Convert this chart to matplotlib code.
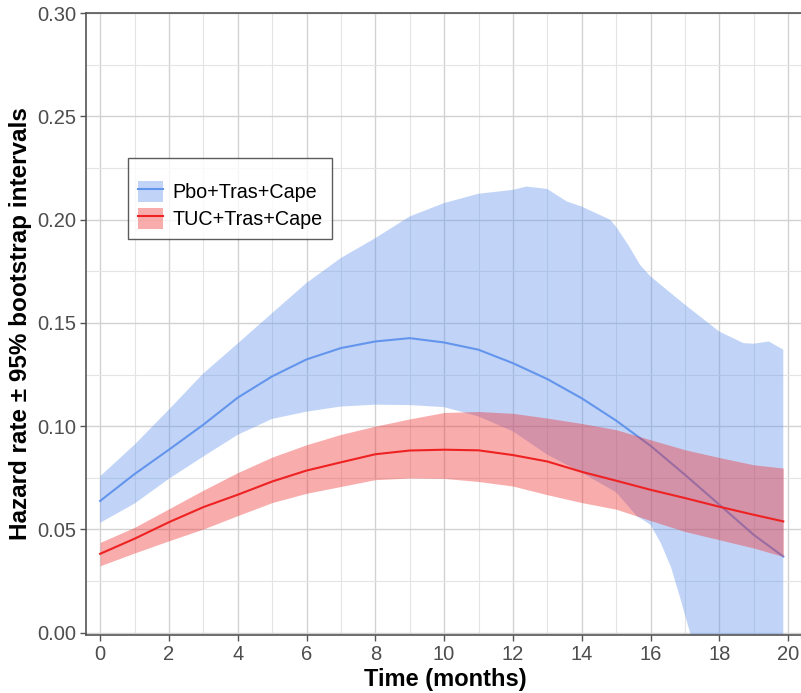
import matplotlib
matplotlib.use("Agg")
import matplotlib.pyplot as plt
from matplotlib.patches import Patch
from matplotlib.lines import Line2D
from matplotlib.ticker import MultipleLocator

plt.rcParams['font.family'] = ['Liberation Sans', 'DejaVu Sans']

# ---- data ----
months = [0, 1, 2, 3, 4, 5, 6, 7, 8, 9, 10, 11, 12, 13, 14, 15, 16, 17, 18, 19, 19.86]

pbo_hazard = [0.0638, 0.0768, 0.0886, 0.1007, 0.1138, 0.1241, 0.1323, 0.1378, 0.1410, 0.1426,
              0.1405, 0.1370, 0.1305, 0.1228, 0.1135, 0.1027, 0.0905, 0.0765, 0.0620, 0.0474, 0.0369]

tuc_hazard = [0.0382, 0.0455, 0.0535, 0.0608, 0.0668, 0.0732, 0.0785, 0.0825, 0.0864, 0.0882,
              0.0886, 0.0883, 0.0860, 0.0829, 0.0779, 0.0736, 0.0692, 0.0652, 0.0610, 0.0571, 0.0539]
tuc_upper = [0.0437, 0.0510, 0.0600, 0.0690, 0.0775, 0.0850, 0.0910, 0.0960, 0.1000, 0.1035,
             0.1066, 0.1071, 0.1062, 0.1039, 0.1013, 0.0983, 0.0934, 0.0886, 0.0848, 0.0813, 0.0797]
tuc_lower = [0.0324, 0.0386, 0.0445, 0.0502, 0.0567, 0.0630, 0.0675, 0.0708, 0.0741, 0.0749,
             0.0747, 0.0732, 0.0710, 0.0668, 0.0630, 0.0598, 0.0543, 0.0490, 0.0450, 0.0410, 0.0369]

pbo_upper_t = [0, 1, 2, 3, 4, 5, 6, 7, 8, 9, 10, 11, 12, 12.4, 13, 13.56, 14, 14.83, 15, 15.35,
               15.7, 16, 17, 18, 18.7, 19, 19.44, 19.86]
pbo_upper = [0.0757, 0.0910, 0.1080, 0.1255, 0.1400, 0.1547, 0.1693, 0.1814, 0.1910, 0.2015,
             0.2080, 0.2125, 0.2144, 0.2160, 0.2148, 0.2088, 0.2063, 0.1999, 0.1965, 0.1878,
             0.1780, 0.1725, 0.1588, 0.1458, 0.1402, 0.1399, 0.1410, 0.1370]

pbo_lower_t = [0, 1, 2, 3, 4, 5, 6, 7, 8, 9, 10, 11, 12, 13, 14, 15, 15.6, 16, 16.3, 16.6,
               16.85, 17.15, 18, 19, 19.86]
pbo_lower = [0.0532, 0.0625, 0.0745, 0.0853, 0.0958, 0.1035, 0.1070, 0.1095, 0.1104, 0.1102,
             0.1092, 0.1047, 0.0975, 0.0862, 0.0775, 0.0680, 0.0565, 0.0523, 0.0434, 0.0315,
             0.0176, 0.0000, -0.0600, -0.1200, -0.1700]

series_labels = ["Pbo+Tras+Cape", "TUC+Tras+Cape"]
x_ticks = [0, 2, 4, 6, 8, 10, 12, 14, 16, 18, 20]
y_ticks = [0.00, 0.05, 0.10, 0.15, 0.20, 0.25, 0.30]

blue_line = "#6495ED"
red_line = "#EE2222"
blue_fill = "#6495ED"
red_fill = "#F03030"
alpha_fill = 0.4

# ---- figure ----
fig = plt.figure(figsize=(8.01, 6.93), dpi=100)
ax = fig.add_axes([86 / 801, 58 / 693, 719.3 / 801, 622 / 693])

poly_x = list(pbo_upper_t) + list(reversed(pbo_lower_t))
poly_y = list(pbo_upper) + list(reversed(pbo_lower))
ax.fill(poly_x, poly_y, color=blue_fill, alpha=alpha_fill, lw=0, zorder=2)
ax.plot(months, pbo_hazard, color=blue_line, lw=1.5, zorder=3)
ax.fill_between(months, tuc_lower, tuc_upper, color=red_fill, alpha=alpha_fill, lw=0, zorder=4)
ax.plot(months, tuc_hazard, color=red_line, lw=1.5, zorder=5)

ax.set_xlim(-0.41, 20.5)
ax.set_ylim(-0.0011, 0.3)
ax.set_xticks(x_ticks)
ax.set_yticks(y_ticks)
ax.set_yticklabels([f"{v:.2f}" for v in y_ticks])
ax.xaxis.set_minor_locator(MultipleLocator(1))
ax.yaxis.set_minor_locator(MultipleLocator(0.025))
ax.grid(which='major', color='#d2d2d2', lw=1.0, zorder=0)
ax.grid(which='minor', color='#e4e4e4', lw=0.8, zorder=0)
ax.set_axisbelow(True)
ax.tick_params(which='minor', length=0)
ax.tick_params(which='major', length=4, width=1, color='#555555', labelcolor='#4d4d4d',
               labelsize=14.5, pad=3)
for s in ax.spines.values():
    s.set_color('#555555')
    s.set_linewidth(1.2)

ax.set_xlabel("Time (months)", fontsize=17, fontweight='bold', labelpad=3)
ax.set_ylabel("Hazard rate \u00b1 95% bootstrap intervals", fontsize=17.5, fontweight='bold',
              labelpad=4)

handles = [
    (Patch(facecolor=blue_fill, alpha=alpha_fill, lw=0), Line2D([], [], color=blue_line, lw=1.5)),
    (Patch(facecolor=red_fill, alpha=alpha_fill, lw=0), Line2D([], [], color=red_line, lw=1.5)),
]
leg = ax.legend(handles, series_labels, loc='upper left',
                bbox_to_anchor=((128 - 86) / 719.3, (635 - 158) / 622),
                fontsize=14.2, frameon=True, fancybox=False, edgecolor='#333333',
                title=' ', title_fontsize=6,
                handlelength=1.25, handleheight=1.25, borderpad=0.5, labelspacing=0.3,
                handletextpad=0.5, borderaxespad=0)
leg.get_frame().set_linewidth(1.0)
leg.set_zorder(10)

fig.savefig("out.png", dpi=100)
